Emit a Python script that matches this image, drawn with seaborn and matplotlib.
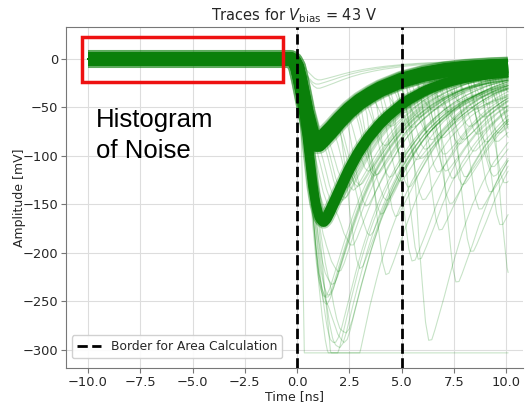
import numpy as np
import pandas as pd
import matplotlib
matplotlib.use("Agg")
import matplotlib.pyplot as plt
import seaborn as sns
from matplotlib.patches import Rectangle
from matplotlib.lines import Line2D

# ---------------- data ----------------
# single photo-electron pulse shape (time after arrival [ns], amplitude [mV])
shape_t = [-30.0, -0.3, -0.15, 0.0, 0.15, 0.3, 0.45, 0.6, 0.75, 0.9, 1.05, 1.2,
           1.6, 2.0, 2.5, 3.0, 3.5, 4.0, 5.0, 6.0, 7.0, 8.0, 9.0, 10.0, 30.0]
shape_mv = [0.0, 0.0, -2.0, -8.0, -22.0, -38.0, -55.0, -68.0, -80.0, -86.0, -86.0, -83.0,
            -74.0, -64.0, -53.0, -44.0, -37.0, -31.0, -22.0, -16.0, -12.0, -9.5, -8.0, -7.0, 0.0]
clip_mv = -303.0                     # digitiser saturation level
record_start, record_stop, sample_ns = -10.0, 10.1, 0.05

# dense bands: list of pulses (arrival [ns], size [p.e.]) per trace
band_1pe = [[(0.0, 0.97)], [(0.0, 1.00)], [(0.0, 1.03)]]
band_2pe = [[(0.0, 1.0), (0.32, 0.98)], [(0.0, 1.0), (0.38, 1.02)]]

# individual (sparse) traces
sparse_traces = [
    # between the 1 and 2 p.e. bands
    [(0, 1), (0.5, 1)], [(0, 1), (0.65, 1)], [(0, 1), (0.8, 1)], [(0, 1), (0.95, 1)],
    [(0, 1), (1.1, 1)], [(0, 1), (1.3, 1)], [(0, 1), (1.5, 0.9)], [(0, 1), (1.8, 1)],
    [(0, 1), (2.1, 1)], [(0, 1), (2.5, 0.9)], [(0, 1), (2.9, 1)],
    # 3 p.e. and larger
    [(0, 1), (0.3, 1), (0.6, 1)], [(0, 1), (0.25, 1), (0.5, 0.95)], [(0, 1), (0.4, 1), (0.7, 1)],
    [(0, 1), (0.35, 1), (0.55, 1.05)], [(0, 1), (0.3, 1), (0.9, 1)],
    [(0, 1), (0.3, 1), (0.6, 1), (1.0, 1)], [(0, 1), (0.4, 1), (0.8, 1), (1.3, 1)],
    [(0, 1), (0.5, 1), (0.9, 1), (1.2, 1), (1.5, 1)], [(0, 1), (0.35, 1), (0.7, 1), (1.1, 0.8)],
    [(0, 1), (0.45, 1), (1.0, 1), (1.6, 1)], [(0, 1), (0.3, 1), (0.6, 1), (1.5, 1.2)],
    # 2 p.e. followed by a delayed pulse
    [(0, 1), (0.35, 1), (1.2, 1)], [(0, 1), (0.35, 1), (1.8, 1)],
    [(0, 1), (0.35, 1), (2.6, 1.2)], [(0, 1), (0.35, 1), (3.4, 1)],
    # delayed large pulses
    [(0, 1), (3.35, 2.25)], [(0, 1), (4.9, 2.2)], [(0, 1), (5.4, 3.2)], [(0, 1), (6.7, 2.55)],
    [(0, 1), (7.4, 2.2)], [(0, 1), (8.8, 1.9)], [(0, 1), (9.3, 2.6)], [(0, 1), (2.1, 2.0)],
    [(0, 1), (4.6, 2.2)], [(0, 1), (5.9, 1.9)],
    # delayed 1-2 p.e. pulses
    [(0, 1), (2.4, 1.3)], [(0, 1), (2.8, 1.0)], [(0, 1), (3.1, 1.5)], [(0, 1), (3.5, 1.1)],
    [(0, 1), (3.8, 1.6)], [(0, 1), (4.1, 0.9)], [(0, 1), (4.4, 1.3)], [(0, 1), (4.8, 1.0)],
    [(0, 1), (5.1, 1.5)], [(0, 1), (5.5, 0.8)], [(0, 1), (5.8, 1.2)], [(0, 1), (6.1, 1.0)],
    [(0, 1), (6.4, 1.6)], [(0, 1), (6.8, 0.9)], [(0, 1), (7.1, 1.3)], [(0, 1), (7.5, 1.0)],
    [(0, 1), (7.8, 1.7)], [(0, 1), (8.1, 0.9)], [(0, 1), (8.4, 1.2)], [(0, 1), (8.7, 0.8)],
    [(0, 1), (9.0, 1.4)], [(0, 1), (9.3, 0.9)], [(0, 1), (9.6, 1.1)], [(0, 1), (3.3, 0.7)],
    [(0, 1), (4.6, 0.6)], [(0, 1), (5.3, 0.7)], [(0, 1), (6.6, 0.6)], [(0, 1), (7.3, 0.7)],
    [(0, 1), (8.0, 0.6)], [(0, 1), (9.1, 0.7)], [(0, 1), (1.4, 1.0), (6.2, 1.0)],
    [(0, 1), (2.0, 1.0), (7.0, 1.2)], [(0, 1), (5.0, 1.0), (8.5, 1.0)],
    # small delayed pulses (tail region)
    [(0, 1), (3.6, 0.5)], [(0, 1), (4.2, 0.4)], [(0, 1), (4.9, 0.5)], [(0, 1), (5.6, 0.45)],
    [(0, 1), (6.3, 0.5)], [(0, 1), (6.9, 0.4)], [(0, 1), (7.6, 0.5)], [(0, 1), (8.2, 0.45)],
    [(0, 1), (8.9, 0.5)], [(0, 1), (9.5, 0.4)], [(0, 1), (5.2, 0.9)], [(0, 1), (6.0, 0.8)],
    [(0, 1), (7.0, 0.85)], [(0, 1), (7.7, 0.8)], [(0, 1), (8.6, 0.9)], [(0, 1), (9.4, 0.8)],
    [(0, 1), (4.0, 1.2)], [(0, 1), (6.5, 1.3)], [(0, 1), (8.3, 1.5)], [(0, 1), (9.8, 1.5)],
    # small pulses
    [(0.0, 0.3)], [(0.05, 0.35)], [(0.1, 0.25)],
    # saturated record
    [(0.4, 60)],
]

borders_ns = [0.0, 5.0]
title = r"Traces for $V_\mathrm{bias}$ = 43 V"
x_ticks = [-10.0, -7.5, -5.0, -2.5, 0.0, 2.5, 5.0, 7.5, 10.0]
y_ticks = [0, -50, -100, -150, -200, -250, -300]

# ---------------- build long-form tables ----------------
t = np.arange(record_start, record_stop + 1e-9, sample_ns)


def build(traces):
    rows = []
    for i, pulses in enumerate(traces):
        v = np.zeros_like(t)
        for t0, size in pulses:
            v = v + size * np.interp(t - t0, shape_t, shape_mv)
        v = np.maximum(v, clip_mv)
        rows.append(pd.DataFrame({"t": t, "mv": v, "trace": i}))
    return pd.concat(rows, ignore_index=True)


df1 = build(band_1pe)
df2 = build(band_2pe)
dfs = build(sparse_traces)

# ---------------- figure ----------------
sns.set_style("whitegrid", {"grid.color": "#dddddd", "axes.edgecolor": "#777777"})
plt.rcParams["font.family"] = ["DejaVu Sans"]

fig = plt.figure(figsize=(5.30, 4.09), dpi=100)
ax = fig.add_axes([66 / 530, 41 / 409, 457 / 530, 341 / 409])

green = "#0a800a"
sns.lineplot(data=dfs, x="t", y="mv", units="trace", estimator=None, color="green",
             alpha=0.22, lw=0.8, ax=ax, legend=False, zorder=2)
sns.lineplot(data=df2, x="t", y="mv", units="trace", estimator=None, color=green,
             alpha=0.3, lw=9, ax=ax, legend=False, zorder=3, solid_capstyle="butt")
sns.lineplot(data=df2, x="t", y="mv", units="trace", estimator=None, color=green,
             lw=6.5, ax=ax, legend=False, zorder=3, solid_capstyle="butt")
sns.lineplot(data=df1, x="t", y="mv", units="trace", estimator=None, color=green,
             alpha=0.3, lw=13, ax=ax, legend=False, zorder=4, solid_capstyle="butt")
sns.lineplot(data=df1, x="t", y="mv", units="trace", estimator=None, color=green,
             lw=10, ax=ax, legend=False, zorder=4, solid_capstyle="butt")

for b in borders_ns:
    ax.axvline(b, color="black", ls="--", lw=2.0, zorder=6)

ax.add_patch(Rectangle((-10.29, -23.7), 9.62, 46.4, fill=False, ec="#ee1111",
                       lw=2.5, zorder=7))
ax.text(-9.62, -70, "Histogram", family=["Liberation Sans"], fontsize=18.5,
        color="black", va="baseline", ha="left", zorder=8)
ax.text(-9.62, -102, "of Noise", family=["Liberation Sans"], fontsize=18.5,
        color="black", va="baseline", ha="left", zorder=8)

ax.set_xlim(-11.053, 10.813)
ax.set_ylim(-318.6, 33)
ax.set_xticks(x_ticks)
ax.set_yticks(y_ticks)
ax.tick_params(axis="both", labelsize=9.4, bottom=True, left=True, length=3.5,
               color="#777777", pad=2)
ax.set_xlabel("Time [ns]", fontsize=9, labelpad=1)
ax.set_ylabel("Amplitude [mV]", fontsize=9)
ax.yaxis.set_label_coords(-0.0875, 0.5)
ax.set_title(title, fontsize=10.5, pad=5)
ax.spines["right"].set_visible(False)

handle = Line2D([], [], color="black", ls="--", lw=2.0)
ax.legend([handle], ["Border for Area Calculation"], loc="lower left", fontsize=8.8,
          frameon=True, framealpha=0.9, borderaxespad=0,
          bbox_to_anchor=(6 / 457, 10 / 341))

fig.savefig("out.png", dpi=100)
